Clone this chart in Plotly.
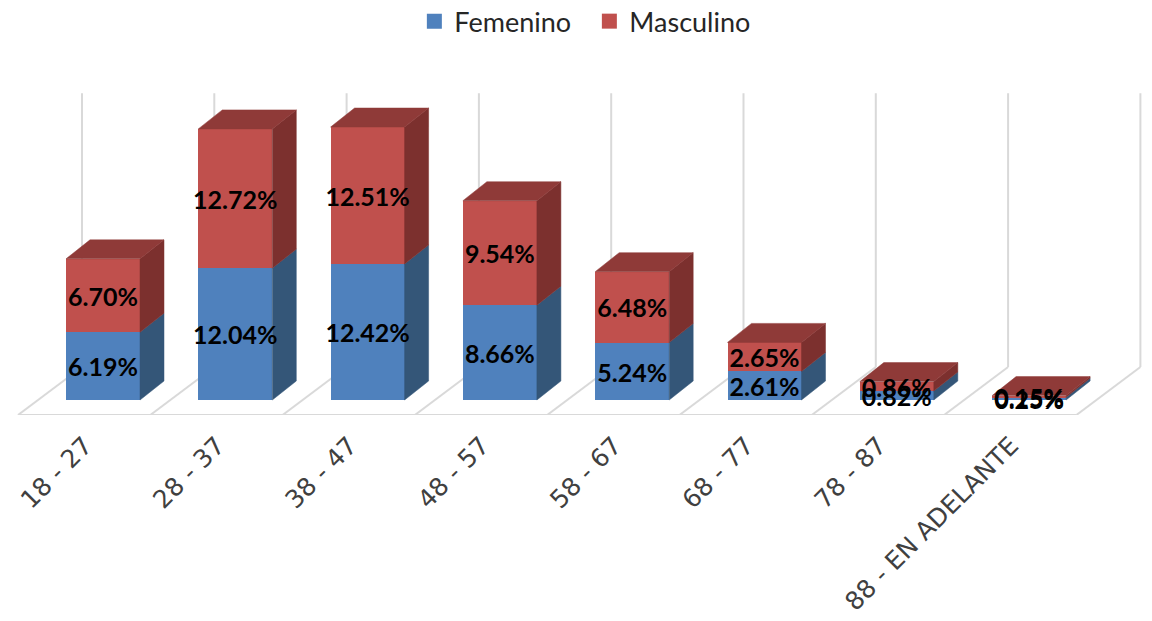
import plotly.graph_objects as go

categories = ["18 - 27", "28 - 37", "38 - 47", "48 - 57", "58 - 67", "68 - 77", "78 - 87", "88 - EN ADELANTE"]
femenino = [6.19, 12.04, 12.42, 8.66, 5.24, 2.61, 0.82, 0.25]
masculino = [6.70, 12.72, 12.51, 9.54, 6.48, 2.65, 0.86, 0.15]

BLUE, BLUE_SIDE = "#4f81bd", "#345678"
RED, RED_SIDE, RED_TOP = "#c0504d", "#7c302e", "#8f3a38"
GRID = "#d9d9d9"

W, H = 1152, 621
PX_X, PX_Y = 132.3, 10.95      # pixels per category, pixels per percent
X0_PX, Y0_PX, FLOOR_PX = 103, 400, 415
BAR_W = 74 / PX_X
DX, DY = 24 / PX_X, 19 / PX_Y  # bar depth
LABEL_DROP = 4 / PX_Y
xs = list(range(len(categories)))

fig = go.Figure()

# floor and back wall, under the bars
fx, fy = (18 - X0_PX) / PX_X, (Y0_PX - FLOOR_PX) / PX_Y
bdx, by = 64 / PX_X, (Y0_PX - 367) / PX_Y
wall_top = by + 25
grid_shapes = []
def seg(x0, y0, x1, y1):
    grid_shapes.append(dict(type="line", xref="x", yref="y", x0=x0, y0=y0, x1=x1, y1=y1,
                            layer="below", line=dict(color=GRID, width=2)))
for i in range(len(categories) + 1):
    seg(fx + i, fy, fx + i + bdx, by)
    seg(fx + i + bdx, by, fx + i + bdx, wall_top)
seg(fx, fy, fx + len(categories), fy)

# front faces
fig.add_trace(go.Bar(x=xs, y=femenino, name="Femenino", marker=dict(color=BLUE, line_width=0),
                     width=BAR_W, showlegend=False))
fig.add_trace(go.Bar(x=xs, y=masculino, name="Masculino", marker=dict(color=RED, line_width=0),
                     width=BAR_W, showlegend=False))

def face(px, py, color):
    fig.add_trace(go.Scatter(x=px, y=py, mode="lines", fill="toself", fillcolor=color,
                             line=dict(color=color, width=0.5), showlegend=False, hoverinfo="skip"))

# side and top faces, derived from the values
for x, f, m in zip(xs, femenino, masculino):
    r = x + BAR_W / 2
    l = x - BAR_W / 2
    t = f + m
    face([r, r + DX, r + DX, r, r], [0, DY, f + DY, f, 0], BLUE_SIDE)
    face([r, r + DX, r + DX, r, r], [f, f + DY, t + DY, t, f], RED_SIDE)
    face([l, r, r + DX, l + DX, l], [t, t, t + DY, t + DY, t], RED_TOP)

# data labels
lab_x = xs + xs
lab_y = [f / 2 - LABEL_DROP for f in femenino] + [f + m / 2 - LABEL_DROP for f, m in zip(femenino, masculino)]
lab_t = [f"{v:.2f}%" for v in femenino] + [f"{v:.2f}%" for v in masculino]
fig.add_trace(go.Scatter(x=lab_x, y=lab_y, text=lab_t, mode="text", textposition="middle center",
                         textfont=dict(family="Lato", size=25, color="#000000", weight="bold"),
                         showlegend=False, hoverinfo="skip", cliponaxis=False))

# legend keys
for name, color in [("Femenino", BLUE), ("Masculino", RED)]:
    fig.add_trace(go.Scatter(x=[None], y=[None], mode="markers", name=name,
                             marker=dict(symbol="square", size=15, color=color)))

fig.update_layout(
    width=W, height=H, barmode="stack", bargap=0,
    margin=dict(l=0, r=0, t=0, b=H - FLOOR_PX, autoexpand=False),
    paper_bgcolor="#ffffff", plot_bgcolor="#ffffff",
    font=dict(family="Lato", color="#404040"),
    shapes=grid_shapes,
    legend=dict(orientation="h", x=0.5116, xanchor="center", y=1.007, yanchor="top",
                font=dict(family="Lato", size=27, color="#262626"), traceorder="normal",
                itemsizing="trace", entrywidth=130, entrywidthmode="pixels",
                bgcolor="rgba(0,0,0,0)"),
    xaxis=dict(range=[-X0_PX / PX_X, (W - X0_PX) / PX_X], tickmode="array", tickvals=xs, ticktext=categories,
               tickangle=-45, ticklen=0, showgrid=False, zeroline=False, showline=False,
               ticklabelshift=-18, ticklabelstandoff=10,
               tickfont=dict(family="DejaVu Sans", size=25, color="#404040")),
    yaxis=dict(range=[(Y0_PX - FLOOR_PX) / PX_Y, Y0_PX / PX_Y], visible=False),
)
fig.write_html("out.html", config=dict(displayModeBar=False),
               post_script="document.body.style.margin='0';document.body.style.overflow='hidden';")
